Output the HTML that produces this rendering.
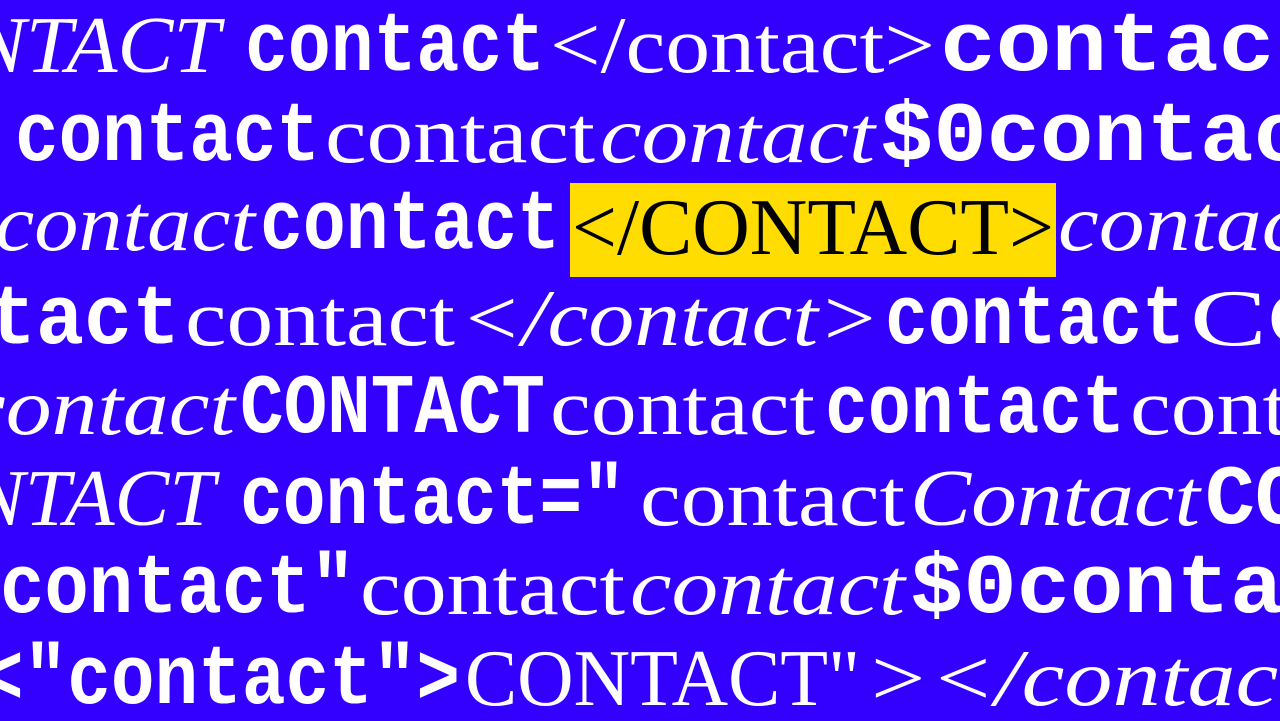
<!DOCTYPE html>
<html><head><meta charset="utf-8"><style>
html,body{margin:0;padding:0;width:1280px;height:721px;overflow:hidden;background:#3300ff}
svg{display:block}
.m{font-family:"Liberation Mono",monospace;font-weight:bold;font-size:84px;fill:#fff}
.s{font-family:"Liberation Serif",serif;font-size:80px;fill:#fff}
.i{font-family:"Liberation Serif",serif;font-style:italic;font-size:80px;fill:#fff}
</style></head><body>
<svg width="1280" height="721" viewBox="0 0 1280 721">
<rect width="1280" height="721" fill="#3300ff"/>
<g>
<text class="i" x="-30" y="72" textLength="250" lengthAdjust="spacingAndGlyphs">NTACT</text>
<text class="m" x="245" y="70" textLength="300" lengthAdjust="spacingAndGlyphs">contact</text>
<text class="s" x="550" y="72" textLength="385" lengthAdjust="spacingAndGlyphs">&lt;/contact&gt;</text>
<text class="m" x="940" y="70" textLength="390" lengthAdjust="spacingAndGlyphs">contact</text>
</g>
<g>
<text class="m" x="15" y="160" textLength="305" lengthAdjust="spacingAndGlyphs">contact</text>
<text class="s" x="325" y="162" textLength="270" lengthAdjust="spacingAndGlyphs">contact</text>
<text class="i" x="600" y="162" textLength="275" lengthAdjust="spacingAndGlyphs">contact</text>
<text class="m" x="880" y="160" textLength="480" lengthAdjust="spacingAndGlyphs">$0contact</text>
</g>
<g>
<text class="i" x="-5" y="250" textLength="260" lengthAdjust="spacingAndGlyphs">contact</text>
<text class="m" x="260" y="248" textLength="300" lengthAdjust="spacingAndGlyphs">contact</text>
<rect x="570" y="183" width="486" height="94" fill="#ffdd00"/>
<text class="s" x="572" y="254" textLength="482" lengthAdjust="spacingAndGlyphs" style="fill:#000;font-size:80px">&lt;/CONTACT&gt;</text>
<text class="i" x="1058" y="250" textLength="270" lengthAdjust="spacingAndGlyphs">contact</text>
</g>
<g>
<text class="m" x="-60" y="343" textLength="240" lengthAdjust="spacingAndGlyphs">ntact</text>
<text class="s" x="185" y="345" textLength="270" lengthAdjust="spacingAndGlyphs">contact</text>
<text class="i" x="460" y="345" textLength="420" lengthAdjust="spacingAndGlyphs">&lt;/contact&gt;</text>
<text class="m" x="885" y="343" textLength="300" lengthAdjust="spacingAndGlyphs">contact</text>
<text class="s" x="1190" y="345" textLength="160" lengthAdjust="spacingAndGlyphs">CO</text>
</g>
<g>
<text class="i" x="-35" y="434" textLength="270" lengthAdjust="spacingAndGlyphs">contact</text>
<text class="m" x="240" y="432" textLength="305" lengthAdjust="spacingAndGlyphs">CONTACT</text>
<text class="s" x="550" y="434" textLength="265" lengthAdjust="spacingAndGlyphs">contact</text>
<text class="m" x="825" y="432" textLength="300" lengthAdjust="spacingAndGlyphs">contact</text>
<text class="s" x="1130" y="434" textLength="265" lengthAdjust="spacingAndGlyphs">contact</text>
</g>
<g>
<text class="i" x="-30" y="525" textLength="245" lengthAdjust="spacingAndGlyphs">NTACT</text>
<text class="m" x="240" y="523" textLength="385" lengthAdjust="spacingAndGlyphs">contact="</text>
<text class="s" x="640" y="525" textLength="265" lengthAdjust="spacingAndGlyphs">contact</text>
<text class="i" x="910" y="525" textLength="290" lengthAdjust="spacingAndGlyphs">Contact</text>
<text class="m" x="1205" y="523" textLength="100" lengthAdjust="spacingAndGlyphs">CO</text>
</g>
<g>
<text class="m" x="0" y="612" textLength="355" lengthAdjust="spacingAndGlyphs">contact"</text>
<text class="s" x="360" y="614" textLength="265" lengthAdjust="spacingAndGlyphs">contact</text>
<text class="i" x="630" y="614" textLength="275" lengthAdjust="spacingAndGlyphs">contact</text>
<text class="m" x="910" y="612" textLength="480" lengthAdjust="spacingAndGlyphs">$0contact</text>
</g>
<g>
<text class="m" x="-20" y="703" textLength="480" lengthAdjust="spacingAndGlyphs">&lt;"contact"&gt;</text>
<text class="s" x="465" y="705" textLength="395" lengthAdjust="spacingAndGlyphs">CONTACT"</text>
<text class="i" x="865" y="705" textLength="440" lengthAdjust="spacingAndGlyphs">&gt;&lt;/contact</text>
</g>
</svg>
</body></html>
